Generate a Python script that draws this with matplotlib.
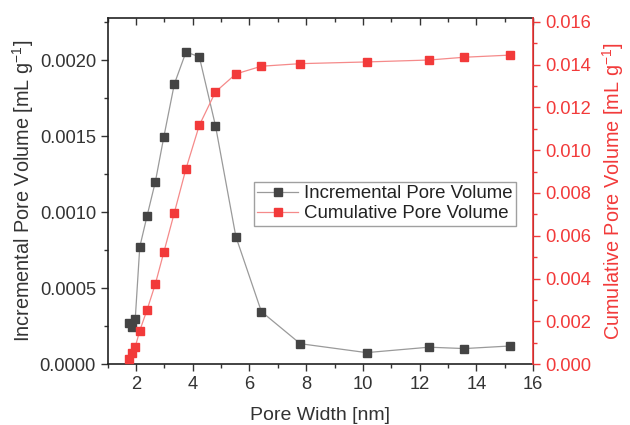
import matplotlib
matplotlib.use("Agg")
import matplotlib.pyplot as plt
from matplotlib.ticker import MultipleLocator, FormatStrFormatter

plt.rcParams['font.family'] = ['Liberation Sans', 'DejaVu Sans']
plt.rcParams['mathtext.fontset'] = 'custom'
plt.rcParams['mathtext.rm'] = 'Liberation Sans'
plt.rcParams['mathtext.it'] = 'Liberation Sans'

pore_width = [1.76, 1.86, 1.97, 2.13, 2.39, 2.68, 2.98, 3.35, 3.76, 4.23, 4.80, 5.52,
              6.42, 7.79, 10.13, 12.33, 13.58, 15.20]
incremental = [0.000270, 0.000247, 0.000296, 0.000771, 0.000977, 0.00120, 0.001496,
               0.001843, 0.002053, 0.002022, 0.001569, 0.000839, 0.000346, 0.000135,
               0.0000763, 0.000112, 0.000103, 0.000120]
cumulative = [0.000262, 0.000514, 0.000808, 0.00157, 0.00255, 0.00375, 0.00524, 0.00708,
              0.00913, 0.01116, 0.01272, 0.01356, 0.01392, 0.01404, 0.01412, 0.01421,
              0.01434, 0.01444]

RED = '#f23a3a'
DARK = '#444444'

fig = plt.figure(figsize=(6.3, 4.25), dpi=100)
ax = fig.add_axes([0.171, 0.143, 0.675, 0.814])
ax2 = ax.twinx()

l1, = ax.plot(pore_width, incremental, '-s', color='#9a9a9a', lw=0.9,
              markerfacecolor=DARK, markeredgecolor=DARK, markersize=6,
              label='Incremental Pore Volume')
l2, = ax2.plot(pore_width, cumulative, '-s', color='#f58a8a', lw=0.9,
               markerfacecolor=RED, markeredgecolor=RED, markersize=6,
               label='Cumulative Pore Volume')

ax.set_xlim(1, 16)
ax.set_ylim(0, 0.002275)
ax2.set_ylim(0, 0.01616)

ax.xaxis.set_major_locator(MultipleLocator(2))
ax.xaxis.set_minor_locator(MultipleLocator(1))
ax.yaxis.set_major_locator(MultipleLocator(0.0005))
ax.yaxis.set_minor_locator(MultipleLocator(0.00025))
ax.yaxis.set_major_formatter(FormatStrFormatter('%.4f'))
ax2.yaxis.set_major_locator(MultipleLocator(0.002))
ax2.yaxis.set_minor_locator(MultipleLocator(0.001))
ax2.yaxis.set_major_formatter(FormatStrFormatter('%.3f'))

TS = 13.2
ax.tick_params(axis='x', which='both', direction='out', top=True, labelsize=TS,
               colors='#333333')
ax.tick_params(axis='y', which='both', direction='out', labelsize=TS, colors='#333333')
ax.tick_params(which='major', length=5, width=1)
ax.tick_params(which='minor', length=3, width=1)
ax2.tick_params(axis='y', which='both', direction='out', colors=RED, labelsize=TS)
ax2.tick_params(which='major', length=5, width=1)
ax2.tick_params(which='minor', length=3, width=1)

# top ticks inward
for t in ax.xaxis.get_major_ticks() + ax.xaxis.get_minor_ticks():
    t.tick2line.set_marker(3)  # TICKDOWN

for s in ['left', 'bottom', 'top']:
    ax.spines[s].set_color('#222222')
    ax.spines[s].set_linewidth(1.2)
ax2.spines['right'].set_color(RED)
ax2.spines['right'].set_linewidth(1.2)
ax2.spines['left'].set_visible(False)
ax2.spines['top'].set_visible(False)
ax2.spines['bottom'].set_visible(False)

ax.set_xlabel('Pore Width [nm]', fontsize=14, color='#333333', labelpad=10)
ax.set_ylabel('Incremental Pore Volume [mL g$^{-1}$]', fontsize=14.3, color='#333333', labelpad=3)
ax2.set_ylabel('Cumulative Pore Volume [mL g$^{-1}$]', fontsize=14.3, color=RED, labelpad=7)

leg = ax.legend(handles=[l1, l2], loc='upper left', bbox_to_anchor=(0.343, 0.528),
                borderaxespad=0, fontsize=13.4, frameon=True, fancybox=False,
                edgecolor='#888888', handlelength=2.2, borderpad=0.2, labelspacing=0.15,
                handletextpad=0.3)
leg.get_frame().set_linewidth(1.0)
for t in leg.get_texts():
    t.set_color('#222222')

fig.savefig('out.png', dpi=100)
